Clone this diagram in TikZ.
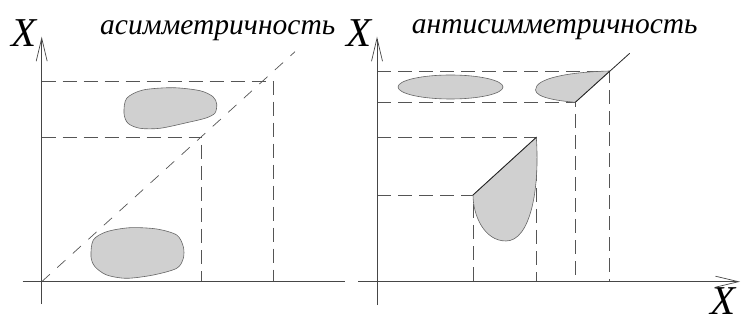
\documentclass[tikz,border=0pt]{standalone}
\usepackage{fontspec}
\setmainfont{Liberation Serif}
\usetikzlibrary{arrows.meta}
\definecolor{axisgray}{RGB}{70,70,70}
\definecolor{dashgray}{RGB}{85,85,85}
\definecolor{blobfill}{RGB}{208,208,208}

\begin{document}
\begin{tikzpicture}[x=1pt,y=-1pt,
  axis/.style={draw=axisgray,line width=0.8pt,
    -{Straight Barb[length=23pt,width=11pt,line width=0.7pt]}},
  axisplain/.style={draw=axisgray,line width=0.8pt},
  guide/.style={draw=dashgray,line width=0.8pt,dash pattern=on 14pt off 7pt},
  diag/.style={draw=dashgray,line width=0.7pt,dash pattern=on 11pt off 10pt},
  blob/.style={draw=black!60,line width=0.6pt,fill=blobfill},
  edge/.style={draw=black!85,line width=0.8pt},
  bigx/.style={font=\fontsize{41}{41}\selectfont\itshape,inner sep=0pt,anchor=base west},
  title/.style={font=\fontsize{29.5}{30}\selectfont\itshape,inner sep=0pt,anchor=base west}]
  \useasboundingbox (0,0) rectangle (746,320);
  % left panel: asymmetry
  \coordinate (o1) at (41.7,281.7);
  \coordinate (y1b) at (41.7,304);
  \coordinate (y1t) at (41.7,36.7);
  \coordinate (x1l) at (22.7,281.7);
  \coordinate (x1r) at (345,281.7);
  \coordinate (a1) at (273,81);
  \coordinate (b1) at (201.7,137);
  \coordinate (d1) at (295,51.7);
  \node[bigx](lx1) at (11,47) {X};
  \node[title](t1) at (100,35) {асимметричность};
  \draw[guide] (o1 |- a1) -- (a1) -- (a1 |- o1);
  \draw[guide] (o1 |- b1) -- (b1) -- (b1 |- o1);
  \draw[diag] (o1) -- (d1);
  \path[blob] plot[smooth cycle] coordinates {(126.7,98.3) (143,90) (173,87.7)
    (200,90.7) (213,96.7) (216.7,104) (215,113) (206,118) (186.7,122.7)
    (160,128.3) (140,128.3) (128,123.3) (124,113.3)};
  \path[blob] plot[smooth cycle] coordinates {(93.3,240) (106.7,231.7) (130,227.7)
    (156.7,229) (176.7,235) (183.3,246.7) (183.3,258.3) (176.7,268.3)
    (153.3,275) (126.7,278.3) (106.7,275) (95,266.7) (91,256.7)};
  \draw[axisplain] (x1l) -- (x1r);
  \draw[axis] (y1b) -- (y1t);
  % right panel: antisymmetry
  \coordinate (o2) at (377,281.7);
  \coordinate (y2b) at (377,305);
  \coordinate (y2t) at (377,36.7);
  \coordinate (x2l) at (358,281.7);
  \coordinate (x2r) at (740,281.7);
  \coordinate (p1) at (609.7,71);
  \coordinate (p2) at (575.3,102.3);
  \coordinate (p3) at (536.3,137.3);
  \coordinate (p4) at (473,195);
  \coordinate (e2) at (629.7,53.3);
  \node[bigx](lx2) at (346,47) {X};
  \node[title](t2) at (411.7,34) {антисимметричность};
  \node[bigx](lx3) at (710,314) {X};
  \foreach \p in {p1,p2,p3,p4}
    \draw[guide] (o2 |- \p) -- (\p) -- (\p |- o2);
  \path[blob] (450.5,87) ellipse[x radius=52.5,y radius=12];
  \path[blob] (p2) -- (p1) .. controls (570,72) and (535,78) .. (535.5,90)
    .. controls (536,98) and (560,101) .. (p2) -- cycle;
  \path[blob] (p4) -- (p3) .. controls (540,190) and (530,241) .. (506,241)
    .. controls (484,241) and (473,215) .. (p4) -- cycle;
  \draw[edge] (p2) -- (e2);
  \draw[edge] (p4) -- (p3);
  \draw[axis] (x2l) -- (x2r);
  \draw[axis] (y2b) -- (y2t);
\end{tikzpicture}
\end{document}
